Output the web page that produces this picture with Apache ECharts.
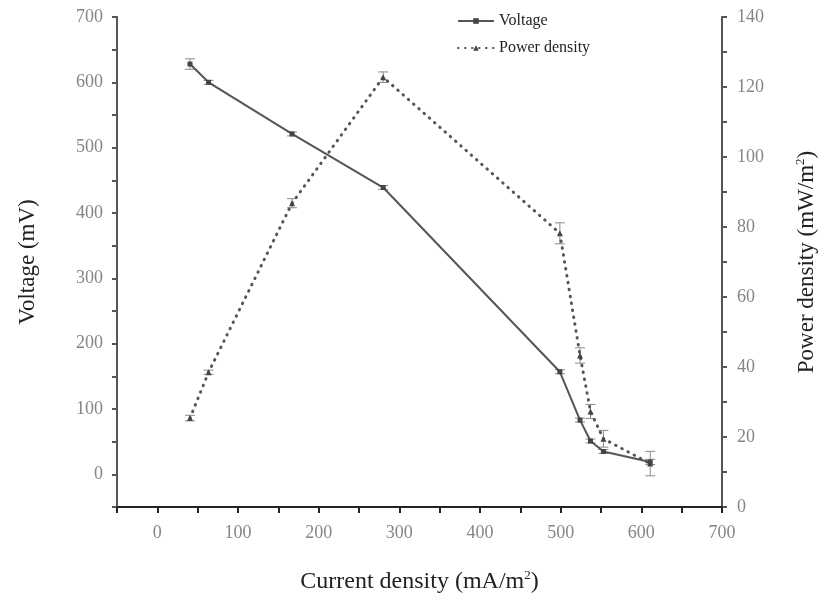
<!DOCTYPE html>
<html>
<head>
<meta charset="utf-8">
<script src="https://cdn.jsdelivr.net/npm/echarts@6/dist/echarts.min.js"></script>
<style>html,body{margin:0;padding:0;background:#fff;}#c{width:820px;height:599px;}</style>
</head>
<body>
<div id="c"></div>
<script>
const current = [40.5, 63.5, 167, 280, 499, 524, 537, 553, 611];
const voltage = [628, 600, 521, 439, 157, 83, 51, 35, 19];
const voltageErr = [8, 3, 3, 3, 3, 3, 3, 3, 4];
const power = [25.4, 38.5, 86.8, 122.8, 78.2, 43.3, 27.3, 19.5, 12.4];
const powerErr = [0.8, 0.6, 1.3, 1.5, 3, 2.2, 2, 2.4, 3.5];
const seriesNames = ['Voltage', 'Power density'];
const xName = 'Current density (mA/m{sup|2})';
const yLeftName = 'Voltage (mV)';
const yRightName = 'Power density (mW/m{sup|2})';

const FONT = '"Liberation Serif", "DejaVu Serif", serif';
const AX = '#555';
const LBL = '#858585';

const vPts = current.map((x, i) => [x, voltage[i]]);
const pPts = current.map((x, i) => [x, power[i]]);
const vErr = current.map((x, i) => [x, voltage[i] - voltageErr[i], voltage[i] + voltageErr[i]]);
const pErr = current.map((x, i) => [x, power[i] - powerErr[i], power[i] + powerErr[i]]);

function errItem(params, api) {
  const x = api.value(0);
  const lo = api.coord([x, api.value(1)]);
  const hi = api.coord([x, api.value(2)]);
  const w = 5;
  const st = { stroke: '#8a8a8a', lineWidth: 1, fill: null };
  return {
    type: 'group',
    children: [
      { type: 'line', shape: { x1: lo[0], y1: lo[1], x2: hi[0], y2: hi[1] }, style: st },
      { type: 'line', shape: { x1: lo[0] - w, y1: lo[1], x2: lo[0] + w, y2: lo[1] }, style: st },
      { type: 'line', shape: { x1: hi[0] - w, y1: hi[1], x2: hi[0] + w, y2: hi[1] }, style: st }
    ]
  };
}

function nameStyle(size) {
  return {
    fontFamily: FONT, fontSize: size, color: '#222',
    rich: { sup: { fontFamily: FONT, fontSize: 13, color: '#222', verticalAlign: 'top', padding: [0, 0, 12, 0] } }
  };
}

const chart = echarts.init(document.getElementById('c'), null, { renderer: 'canvas' });
chart.setOption({
  animation: false,
  backgroundColor: '#fff',
  grid: { left: 117, right: 98, top: 17, bottom: 92, containLabel: false, outerBoundsMode: 'none' },
  legend: {
    data: seriesNames,
    orient: 'vertical',
    left: 452, top: 8,
    itemWidth: 36, itemHeight: 7, itemGap: 11,
    textStyle: { fontFamily: FONT, fontSize: 16, color: '#222' }
  },
  xAxis: {
    type: 'value', min: -50, max: 700, interval: 50,
    name: xName, nameLocation: 'middle', nameGap: 62,
    nameTextStyle: nameStyle(24),
    axisLine: { show: true, onZero: false, lineStyle: { color: '#222', width: 2 } },
    axisTick: { show: true, length: 6, lineStyle: { color: '#222', width: 2 } },
    axisLabel: {
      margin: 17, fontFamily: FONT, fontSize: 18, color: LBL,
      formatter: v => (v >= 0 && v % 100 === 0) ? String(v) : ''
    },
    splitLine: { show: false }
  },
  yAxis: [
    {
      type: 'value', min: -50, max: 700, interval: 50, position: 'left',
      name: yLeftName, nameLocation: 'middle', nameGap: 78,
      nameTextStyle: nameStyle(23),
      axisLine: { show: true, onZero: false, lineStyle: { color: AX, width: 2 } },
      axisTick: { show: true, length: 5, lineStyle: { color: AX, width: 2 } },
      axisLabel: {
        margin: 14, fontFamily: FONT, fontSize: 18, color: LBL,
        formatter: v => (v >= 0 && v % 100 === 0) ? String(v) : ''
      },
      splitLine: { show: false }
    },
    {
      type: 'value', min: 0, max: 140, interval: 10, position: 'right',
      name: yRightName, nameLocation: 'middle', nameGap: 72,
      nameTextStyle: nameStyle(23),
      axisLine: { show: true, onZero: false, lineStyle: { color: AX, width: 2 } },
      axisTick: { show: true, length: 5, lineStyle: { color: AX, width: 2 } },
      axisLabel: {
        margin: 15, fontFamily: FONT, fontSize: 18, color: LBL,
        formatter: v => (v % 20 === 0) ? String(v) : ''
      },
      splitLine: { show: false }
    }
  ],
  series: [
    {
      type: 'custom', name: 'vErr', xAxisIndex: 0, yAxisIndex: 0,
      renderItem: errItem, data: vErr, encode: { x: 0, y: [1, 2] }, z: 1, silent: true
    },
    {
      type: 'custom', name: 'pErr', xAxisIndex: 0, yAxisIndex: 1,
      renderItem: errItem, data: pErr, encode: { x: 0, y: [1, 2] }, z: 1, silent: true
    },
    {
      name: seriesNames[0], type: 'line', yAxisIndex: 0, data: vPts,
      symbol: 'rect', symbolSize: 5,
      lineStyle: { color: '#555', width: 2, type: 'solid' },
      itemStyle: { color: '#444' }, z: 3
    },
    {
      name: seriesNames[1], type: 'line', yAxisIndex: 1, data: pPts,
      symbol: 'triangle', symbolSize: 6,
      lineStyle: { color: '#555', width: 3, type: [0.5, 6.5], cap: 'round' },
      itemStyle: { color: '#444' }, z: 3
    }
  ]
});
</script>
</body>
</html>
